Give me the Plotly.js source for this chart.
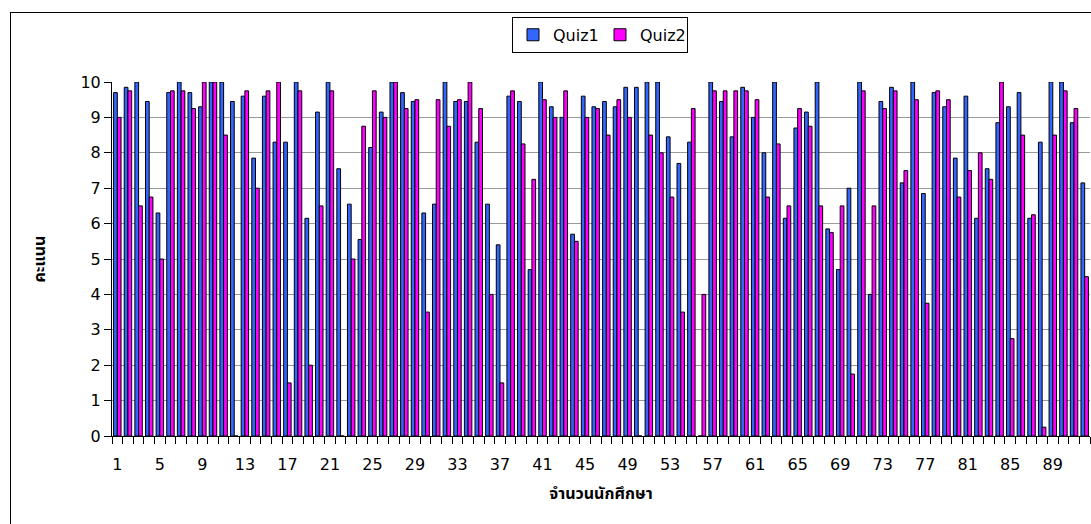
<!DOCTYPE html>
<html>
<head>
<meta charset="utf-8">
<script src="https://cdn.plot.ly/plotly-3.0.1.min.js"></script>
<style>
  html, body { margin: 0; padding: 0; background: #fff; overflow: hidden; }
  #wrap { position: relative; width: 1091px; height: 524px; }
  #chart { position: absolute; left: 0; top: 0; width: 1091px; height: 524px; }
  #frame { position: absolute; left: 10px; top: 12px; width: 1200px; height: 600px;
           border-left: 1px solid #000; border-top: 1px solid #000; pointer-events: none; }
</style>
</head>
<body>
<div id="wrap">
  <div id="chart"></div>
  <div id="frame"></div>
</div>
<script>
// Student numbers (categories)
const students = [1,2,3,4,5,6,7,8,9,10,11,12,13,14,15,16,17,18,19,20,
  21,22,23,24,25,26,27,28,29,30,31,32,33,34,35,36,37,38,39,40,
  41,42,43,44,45,46,47,48,49,50,51,52,53,54,55,56,57,58,59,60,
  61,62,63,64,65,66,67,68,69,70,71,72,73,74,75,76,77,78,79,80,
  81,82,83,84,85,86,87,88,89,90,91,92];

// Quiz 1 scores
const quiz1 = [9.7, 9.85, 10, 9.45, 6.3, 9.7, 10, 9.7, 9.3, 10,
  10, 9.45, 9.6, 7.85, 9.6, 8.3, 8.3, 10, 6.15, 9.15,
  10, 7.55, 6.55, 5.55, 8.15, 9.15, 10, 9.7, 9.45, 6.3,
  6.55, 10, 9.45, 9.45, 8.3, 6.55, 5.4, 9.6, 9.45, 4.7,
  10, 9.3, 9.0, 5.7, 9.6, 9.3, 9.45, 9.3, 9.85, 9.85,
  10, 10, 8.45, 7.7, 8.3, 0, 10, 9.45, 8.45, 9.85,
  9.0, 8.0, 10, 6.15, 8.7, 9.15, 10, 5.85, 4.7, 7.0,
  10, 4.0, 9.45, 9.85, 7.15, 10, 6.85, 9.7, 9.3, 7.85,
  9.6, 6.15, 7.55, 8.85, 9.3, 9.7, 6.15, 8.3, 10, 10, 8.85, 7.15];

// Quiz 2 scores
const quiz2 = [9.0, 9.75, 6.5, 6.75, 5.0, 9.75, 9.75, 9.25, 10, 10,
  8.5, 0, 9.75, 7.0, 9.75, 10, 1.5, 9.75, 2.0, 6.5,
  9.75, 0, 5.0, 8.75, 9.75, 9.0, 10, 9.25, 9.5, 3.5,
  9.5, 8.75, 9.5, 10, 9.25, 4.0, 1.5, 9.75, 8.25, 7.25,
  9.5, 9.0, 9.75, 5.5, 9.0, 9.25, 8.5, 9.5, 9.0, 0,
  8.5, 8.0, 6.75, 3.5, 9.25, 4.0, 9.75, 9.75, 9.75, 9.75,
  9.5, 6.75, 8.25, 6.5, 9.25, 8.75, 6.5, 5.75, 6.5, 1.75,
  9.75, 6.5, 9.25, 9.75, 7.5, 9.5, 3.75, 9.75, 9.5, 6.75,
  7.5, 8.0, 7.25, 10, 2.75, 8.5, 6.25, 0.25, 8.5, 9.75, 9.25, 4.5];

// Tick labels on the x axis
const xTickVals = [1,5,9,13,17,21,25,29,33,37,41,45,49,53,57,61,65,69,73,77,81,85,89];
const xTickText = ["1","5","9","13","17","21","25","29","33","37","41","45","49","53","57","61","65","69","73","77","81","85","89"];
const yTickVals = [0,1,2,3,4,5,6,7,8,9,10];

const seriesNames = ["Quiz1", "Quiz2"];

const tickFont = {family: '"DejaVu Sans", Arial, sans-serif', size: 16, color: '#000'};
const thaiFont = {family: 'Tahoma, "Noto Sans Thai", "Noto Sans", "DejaVu Sans", sans-serif', size: 16, color: '#000', weight: 'bold'};

const traces = [
  {type: 'bar', name: seriesNames[0], x: students, y: quiz1,
   marker: {color: '#3366FF', line: {color: '#000', width: 1}}},
  {type: 'bar', name: seriesNames[1], x: students, y: quiz2,
   marker: {color: '#FF00FF', line: {color: '#000', width: 1}}}
];

const layout = {
  width: 1091, height: 524,
  margin: {l: 112, r: 1, t: 82, b: 88, pad: 0},
  paper_bgcolor: 'rgba(0,0,0,0)',
  plot_bgcolor: '#fff',
  barmode: 'group',
  bargap: 0.3,
  bargroupgap: 0,
  showlegend: true,
  legend: {
    orientation: 'h', x: 0.409, xanchor: 'left', y: 1.184, yanchor: 'top',
    bordercolor: '#000', borderwidth: 1, bgcolor: '#fff',
    font: {family: '"DejaVu Sans", Arial, sans-serif', size: 16, color: '#000'},
    itemwidth: 30,
    entrywidth: 42, entrywidthmode: 'pixels',
    traceorder: 'normal'
  },
  xaxis: {
    type: 'linear', range: [0.5, 92.5], autorange: false,
    tickmode: 'array', tickvals: xTickVals, ticktext: xTickText,
    ticks: '', showgrid: false, zeroline: false,
    showline: true, linecolor: '#000', linewidth: 1,
    tickfont: tickFont, ticklabelstandoff: 14,
    minor: {tick0: 0.5, dtick: 1, ticks: 'outside', ticklen: 7, tickwidth: 1, tickcolor: '#000', showgrid: false},
    title: {text: 'จำนวนนักศึกษา', font: thaiFont, standoff: 14},
    automargin: false, fixedrange: true
  },
  yaxis: {
    range: [0, 10], autorange: false,
    tickmode: 'array', tickvals: yTickVals,
    ticks: 'outside', ticklen: 7, tickwidth: 1, tickcolor: '#000',
    showgrid: true, gridcolor: '#9a9a9a', gridwidth: 1,
    zeroline: false, showline: true, linecolor: '#000', linewidth: 1,
    tickfont: tickFont,
    title: {text: 'คะแนน', font: thaiFont, standoff: 30},
    automargin: false, fixedrange: true
  }
};

Plotly.newPlot('chart', traces, layout, {displayModeBar: false, staticPlot: true});
</script>
</body>
</html>
